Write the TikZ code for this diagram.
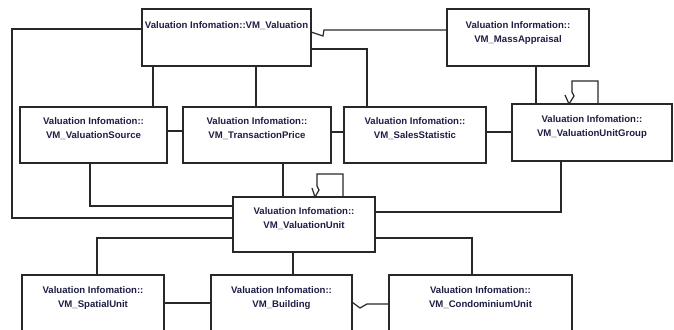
\documentclass[tikz,border=0pt]{standalone}
\usepackage{fontspec}
\setmainfont{Liberation Sans}
\usepackage{xcolor}
\usepackage{tikz}

\newlength{\unitpx}
\setlength{\unitpx}{0.75pt}

\begin{document}
\begin{tikzpicture}[x=0.75pt,y=-0.75pt]
        \definecolor{umltext}{RGB}{30,30,70}
        \definecolor{umlline}{RGB}{40,40,40}

        \tikzset{
           umlbox/.style 2 args={
              draw=umlline,
              line width=0.9pt,
              anchor=north west,
              minimum width=#1*0.75pt,
              minimum height=#2*0.75pt,
              inner sep=0pt,
              outer sep=0pt
           },
           umltext/.style={
              anchor=north,
              yshift=-10.5\unitpx,
              align=center,
              inner sep=0pt,
              text=umltext,
              font=\fontsize{7.2}{10.5}\selectfont\bfseries
           },
           link/.style={draw=umlline, line width=0.9pt}
        }

        \useasboundingbox (0,0) rectangle (674,329);
        \clip (0,0) rectangle (674,329);

        % Boxes, top row
        \node[umlbox={169}{57}, label={[umltext, yshift=-2\unitpx]north:Valuation Infomation::VM\_Valuation}] (val) at (142,9) {};
        \node[umlbox={142}{57}, label={[umltext, yshift=-2\unitpx]north:Valuation Information::\\VM\_MassAppraisal}] (mass) at (447,9) {};

        % Boxes, middle row
        \node[umlbox={147}{56}, label={[umltext]north:Valuation Infomation::\\VM\_ValuationSource}] (src) at (20,107) {};
        \node[umlbox={148}{56}, label={[umltext]north:Valuation Infomation::\\VM\_TransactionPrice}] (price) at (183,107) {};
        \node[umlbox={142}{56}, label={[umltext]north:Valuation Infomation::\\VM\_SalesStatistic}] (sales) at (344,107) {};
        \node[umlbox={160}{57}, label={[umltext, yshift=-1\unitpx]north:Valuation Infomation::\\VM\_ValuationUnitGroup}] (group) at (512,104) {};

        % Valuation unit
        \node[umlbox={142}{55}, label={[umltext]north:Valuation Infomation::\\VM\_ValuationUnit}] (unit) at (233,197) {};

        % Boxes, bottom row (cut off)
        \node[umlbox={142}{80}, label={[umltext, yshift=-1\unitpx]north:Valuation Infomation::\\VM\_SpatialUnit}] (spatial) at (22,275) {};
        \node[umlbox={141}{80}, label={[umltext, yshift=-1\unitpx]north:Valuation Infomation::\\VM\_Building}] (bldg) at (211,275) {};
        \node[umlbox={183}{80}, label={[umltext, yshift=-1\unitpx]north:Valuation Infomation::\\VM\_CondominiumUnit}] (condo) at (389,275) {};

        % Lines from VM_Valuation
        \draw[link] ([yshift=-20\unitpx]val.north west) -- ++(-130,0) |- ([yshift=-21\unitpx]unit.north west);
        \draw[link] ([xshift=11\unitpx]val.south west) coordinate (v1) -- (v1 |- src.north);
        \draw[link] ([xshift=114\unitpx]val.south west) coordinate (v2) -- (v2 |- price.north);
        \draw[link] ([yshift=-40\unitpx]val.north east) -| ([xshift=23\unitpx]sales.north west);
        \draw[link] ([yshift=-21\unitpx]mass.north west)
              -- ([xshift=13\unitpx,yshift=-21\unitpx]val.north east)
              -- ([xshift=12\unitpx,yshift=-27\unitpx]val.north east)
              -- ([yshift=-23\unitpx]val.north east);

        % Mass appraisal and unit group
        \draw[link] ([xshift=89\unitpx]mass.south west) coordinate (m1) -- (m1 |- group.north);
        \draw[link] ([xshift=86\unitpx]group.north west) -- ++(0,-23)
              -| ([xshift=60\unitpx,yshift=12\unitpx]group.north west)
              -- ([xshift=62\unitpx,yshift=8\unitpx]group.north west)
              -- ([xshift=57\unitpx]group.north west)
              -- ([xshift=53\unitpx,yshift=9\unitpx]group.north west);

        % Middle row
        \draw[link] ([yshift=-24\unitpx]src.north east) coordinate (s1) -- (s1 -| price.west);
        \draw[link] ([yshift=-25\unitpx]price.north east) coordinate (p1) -- (p1 -| sales.west);
        \draw[link] ([yshift=-25\unitpx]sales.north east) coordinate (s2) -- (s2 -| group.west);

        % Lines into VM_ValuationUnit
        \draw[link] ([xshift=70\unitpx]src.south west) |- ([yshift=-9\unitpx]unit.north west);
        \draw[link] ([xshift=100\unitpx]price.south west) coordinate (p2) -- (p2 |- unit.north);
        \draw[link] ([xshift=49\unitpx]group.south west) |- ([yshift=-15\unitpx]unit.north east);
        \draw[link] ([xshift=110\unitpx]unit.north west) -- ++(0,-23)
              -| ([xshift=84\unitpx,yshift=11\unitpx]unit.north west)
              -- ([xshift=86\unitpx,yshift=7\unitpx]unit.north west)
              -- ([xshift=82\unitpx]unit.north west)
              -- ([xshift=79\unitpx,yshift=9\unitpx]unit.north west);

        % Lines from VM_ValuationUnit
        \draw[link] ([yshift=-41\unitpx]unit.north west) -| ([xshift=75\unitpx]spatial.north west);
        \draw[link] ([xshift=60\unitpx]unit.south west) coordinate (u1) -- (u1 |- bldg.north);
        \draw[link] ([yshift=-41\unitpx]unit.north east) -| ([xshift=83\unitpx]condo.north west);

        % Bottom row
        \draw[link] ([yshift=-28\unitpx]spatial.north east) coordinate (b1) -- (b1 -| bldg.west);
        \draw[link] ([yshift=-29\unitpx]condo.north west)
              -- ([xshift=15\unitpx,yshift=-29\unitpx]bldg.north east)
              -- ([xshift=8\unitpx,yshift=-33\unitpx]bldg.north east)
              -- ([yshift=-27\unitpx]bldg.north east);
\end{tikzpicture}
\end{document}
